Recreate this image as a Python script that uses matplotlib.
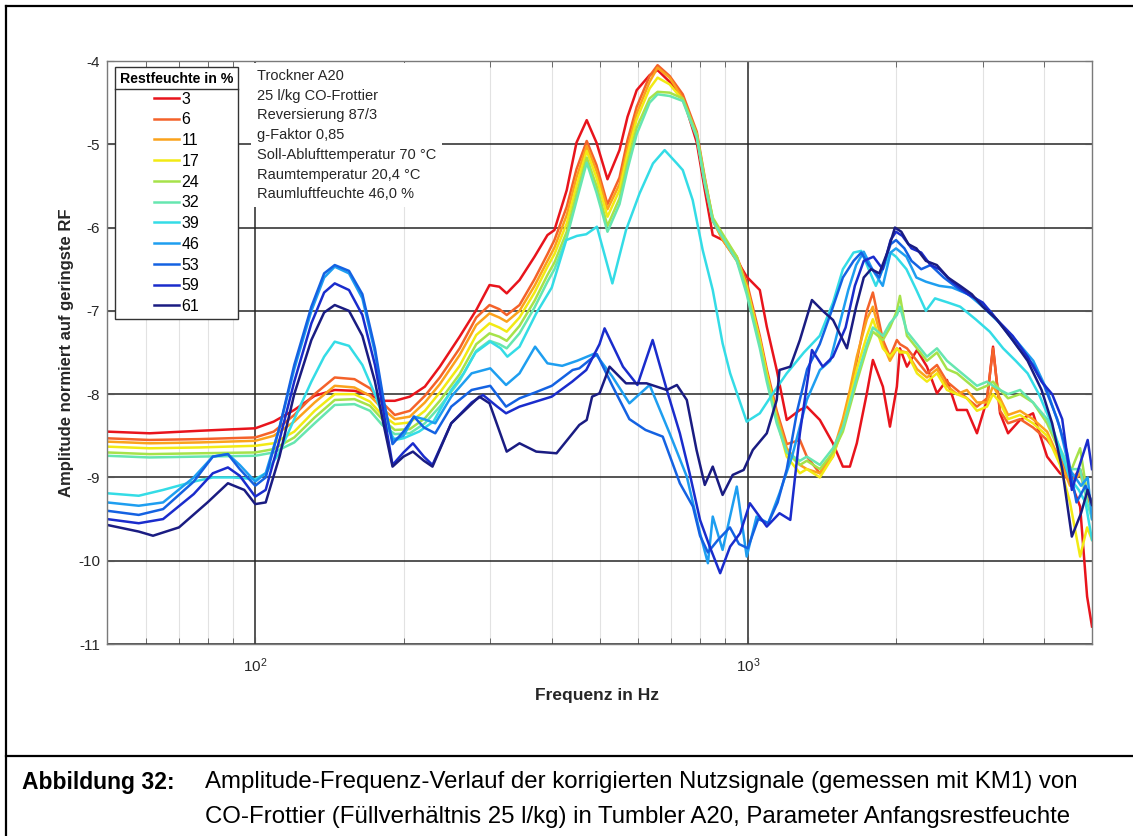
import matplotlib
matplotlib.use("Agg")
import matplotlib.pyplot as plt
from matplotlib.lines import Line2D

plt.rcParams['font.family'] = ['Liberation Sans', 'DejaVu Sans']
plt.rcParams['axes.unicode_minus'] = False

# Restfeuchte der Messreihen in %
moisture = [3, 6, 11, 17, 24, 32, 39, 46, 53, 59, 61]
colors = ['#e8141c', '#f4622a', '#fba21c', '#f2ea14', '#a6e24a', '#66e6b0',
          '#34dce6', '#1e9ef0', '#1462e2', '#1a2ccc', '#1a1c82']

info_lines = ['Trockner A20', '25 l/kg CO-Frottier', 'Reversierung 87/3', 'g-Faktor 0,85',
              'Soll-Ablufttemperatur 70 °C', 'Raumtemperatur 20,4 °C', 'Raumluftfeuchte 46,0 %']

# Frequenzstuetzstellen der warmen (trockenen) Messreihen
f_dry = [50, 61, 77, 100, 109, 120, 132, 145, 159, 171, 181, 192, 206, 221, 237, 260, 281, 299, 313, 324,
         344, 369, 392, 405, 429, 449, 471, 493, 519, 549, 570, 595, 632, 656, 694, 738, 788, 818, 849, 890,
         950, 995, 1058, 1093, 1145, 1200, 1276, 1318, 1401, 1489, 1560, 1612, 1665, 1745, 1795, 1881, 1944,
         2008, 2037, 2105, 2206, 2311, 2422, 2538, 2659, 2786, 2920, 3060, 3148, 3253, 3377, 3572, 3795,
         4053, 4306, 4511, 4730, 4887, 5000]

a_03 = [-8.45, -8.47, -8.44, -8.41, -8.33, -8.19, -8.02, -7.95, -7.96, -8.01, -8.08, -8.08, -8.03, -7.91,
        -7.67, -7.31, -6.99, -6.69, -6.71, -6.79, -6.63, -6.35, -6.09, -6.03, -5.55, -4.98, -4.71, -4.98,
        -5.42, -5.07, -4.67, -4.35, -4.17, -4.11, -4.25, -4.43, -4.98, -5.55, -6.09, -6.15, -6.39, -6.59,
        -6.75, -7.19, -7.71, -8.31, -8.19, -8.15, -8.31, -8.59, -8.87, -8.87, -8.59, -7.99, -7.59, -7.91,
        -8.39, -7.91, -7.45, -7.67, -7.47, -7.67, -7.99, -7.83, -8.19, -8.19, -8.47, -8.07, -7.43, -8.23,
        -8.47, -8.31, -8.23, -8.75, -8.95, -9.03, -9.35, -10.43, -10.79]

a_06 = [-8.53, -8.55, -8.54, -8.52, -8.45, -8.25, -8.00, -7.80, -7.82, -7.93, -8.10, -8.25, -8.20, -8.02,
        -7.80, -7.45, -7.08, -6.93, -6.98, -7.05, -6.93, -6.62, -6.32, -6.15, -5.75, -5.30, -4.96, -5.25,
        -5.72, -5.40, -4.95, -4.55, -4.18, -4.05, -4.18, -4.40, -4.85, -5.40, -5.90, -6.15, -6.35, -6.65,
        -7.30, -7.70, -8.20, -8.60, -8.55, -8.75, -8.95, -8.75, -8.35, -8.00, -7.60, -7.00, -6.78, -7.35,
        -7.55, -7.35, -7.40, -7.45, -7.60, -7.75, -7.65, -7.85, -7.95, -8.05, -8.15, -8.05, -7.45, -8.20,
        -8.35, -8.30, -8.40, -8.55, -8.75, -9.05, -8.90, -9.20, -9.30]

a_11 = [-8.57, -8.59, -8.58, -8.56, -8.50, -8.33, -8.10, -7.90, -7.92, -8.02, -8.17, -8.30, -8.27, -8.10,
        -7.88, -7.53, -7.17, -7.03, -7.08, -7.13, -7.00, -6.70, -6.40, -6.24, -5.85, -5.40, -5.02, -5.32,
        -5.78, -5.48, -5.05, -4.63, -4.25, -4.08, -4.20, -4.45, -4.90, -5.45, -5.92, -6.15, -6.40, -6.70,
        -7.35, -7.75, -8.25, -8.65, -8.85, -8.90, -8.95, -8.70, -8.30, -7.95, -7.55, -7.10, -6.95, -7.40,
        -7.60, -7.45, -7.48, -7.50, -7.70, -7.80, -7.70, -7.90, -8.00, -7.95, -8.10, -8.10, -7.90, -8.05,
        -8.25, -8.20, -8.30, -8.45, -8.80, -9.10, -8.95, -9.25, -9.35]

a_17 = [-8.63, -8.65, -8.64, -8.62, -8.59, -8.45, -8.20, -8.00, -8.00, -8.09, -8.25, -8.36, -8.34, -8.20,
        -7.98, -7.66, -7.29, -7.15, -7.20, -7.25, -7.08, -6.78, -6.47, -6.32, -5.95, -5.50, -5.08, -5.40,
        -5.87, -5.55, -5.12, -4.70, -4.33, -4.20, -4.28, -4.47, -4.90, -5.45, -5.90, -6.10, -6.35, -6.72,
        -7.35, -7.75, -8.30, -8.75, -8.95, -8.90, -9.00, -8.75, -8.40, -8.05, -7.70, -7.30, -7.10, -7.45,
        -7.55, -7.45, -7.50, -7.50, -7.75, -7.85, -7.75, -7.95, -8.00, -8.05, -8.20, -8.15, -8.00, -8.10,
        -8.30, -8.25, -8.35, -8.50, -8.85, -9.30, -9.95, -9.60, -9.75]

a_24 = [-8.70, -8.72, -8.71, -8.70, -8.66, -8.52, -8.28, -8.07, -8.06, -8.14, -8.30, -8.43, -8.42, -8.29,
        -8.08, -7.76, -7.40, -7.27, -7.31, -7.36, -7.18, -6.88, -6.57, -6.42, -6.05, -5.60, -5.16, -5.50,
        -5.98, -5.65, -5.22, -4.80, -4.45, -4.37, -4.38, -4.45, -4.88, -5.42, -5.88, -6.08, -6.35, -6.75,
        -7.40, -7.80, -8.30, -8.70, -8.85, -8.80, -8.90, -8.70, -8.45, -8.15, -7.85, -7.45, -7.25, -7.35,
        -7.20, -7.00, -6.82, -7.30, -7.45, -7.60, -7.50, -7.70, -7.75, -7.85, -7.95, -7.90, -7.85, -7.95,
        -8.05, -8.00, -8.10, -8.35, -8.70, -8.95, -8.65, -9.20, -9.30]

a_32 = [-8.74, -8.76, -8.75, -8.74, -8.70, -8.58, -8.35, -8.13, -8.12, -8.20, -8.37, -8.48, -8.47, -8.35,
        -8.15, -7.84, -7.48, -7.36, -7.40, -7.45, -7.27, -6.96, -6.65, -6.50, -6.12, -5.68, -5.22, -5.58,
        -6.05, -5.72, -5.30, -4.88, -4.50, -4.40, -4.42, -4.48, -4.92, -5.48, -5.92, -6.12, -6.40, -6.80,
        -7.45, -7.85, -8.35, -8.70, -8.80, -8.75, -8.85, -8.65, -8.40, -8.10, -7.80, -7.40, -7.20, -7.30,
        -7.15, -7.05, -6.95, -7.25, -7.40, -7.55, -7.45, -7.60, -7.70, -7.80, -7.90, -7.85, -7.90, -7.95,
        -8.00, -7.95, -8.10, -8.30, -8.65, -8.90, -8.90, -9.30, -9.50]

f_39 = [50, 58, 65, 75, 82, 90, 100, 105, 112, 120, 130, 138, 145, 155, 165, 175, 185, 192, 200, 215,
        230, 250, 265, 280, 300, 315, 325, 344, 372, 400, 428, 450, 470, 494, 531, 566, 603, 642, 678, 718,
        738, 773, 810, 849, 889, 921, 995, 1058, 1125, 1200, 1300, 1400, 1490, 1560, 1640, 1700, 1760, 1820,
        1880, 1950, 2000, 2100, 2200, 2300, 2400, 2550, 2700, 2900, 3100, 3300, 3500, 3700, 3900, 4100,
        4300, 4500, 4700, 4850, 5000]
a_39 = [-9.19, -9.22, -9.15, -9.05, -9.00, -9.00, -9.02, -8.95, -8.70, -8.30, -7.85, -7.55, -7.37, -7.42,
        -7.65, -8.00, -8.40, -8.55, -8.53, -8.45, -8.33, -7.95, -7.75, -7.50, -7.37, -7.45, -7.55, -7.43,
        -7.03, -6.72, -6.15, -6.10, -6.08, -5.99, -6.67, -6.03, -5.59, -5.23, -5.07, -5.23, -5.31, -5.67,
        -6.27, -6.75, -7.39, -7.75, -8.33, -8.23, -7.99, -7.75, -7.50, -7.30, -6.90, -6.50, -6.30, -6.28,
        -6.50, -6.70, -6.50, -6.30, -6.35, -6.50, -6.75, -7.00, -6.85, -6.90, -6.95, -7.10, -7.25, -7.45,
        -7.60, -7.75, -8.00, -8.30, -8.65, -9.00, -9.15, -9.30, -9.75]

f_46 = [50, 58, 65, 75, 82, 88, 93, 100, 105, 112, 120, 130, 138, 145, 155, 165, 175, 182, 190, 200,
        210, 220, 232, 250, 275, 300, 323, 344, 370, 392, 420, 450, 490, 531, 575, 632, 694, 752, 800, 830,
        849, 889, 950, 995, 1042, 1100, 1160, 1230, 1318, 1401, 1470, 1530, 1600, 1660, 1720, 1790, 1880,
        1950, 2000, 2100, 2200, 2300, 2450, 2600, 2800, 3000, 3250, 3500, 3800, 4050, 4300, 4500, 4750,
        4900, 5000]
a_46 = [-9.30, -9.34, -9.30, -9.00, -8.75, -8.72, -8.85, -9.05, -8.95, -8.40, -7.70, -7.00, -6.60, -6.47,
        -6.55, -6.85, -7.50, -8.10, -8.55, -8.50, -8.27, -8.30, -8.35, -8.03, -7.75, -7.69, -7.89, -7.75,
        -7.43, -7.63, -7.66, -7.60, -7.51, -7.79, -8.11, -7.89, -8.47, -8.99, -9.67, -10.03, -9.47, -9.87,
        -9.11, -9.95, -9.47, -9.55, -9.19, -8.75, -8.07, -7.71, -7.60, -7.20, -6.75, -6.45, -6.29, -6.50,
        -6.70, -6.30, -6.25, -6.35, -6.60, -6.65, -6.70, -6.72, -6.80, -6.95, -7.15, -7.35, -7.60, -7.95,
        -8.40, -8.90, -9.10, -9.00, -9.50]

f_53 = [50, 58, 65, 75, 82, 88, 93, 100, 105, 112, 120, 130, 138, 145, 155, 165, 175, 182, 190, 200,
        210, 220, 232, 250, 275, 300, 323, 344, 370, 400, 441, 455, 494, 531, 575, 620, 672, 728, 774, 800,
        830, 870, 920, 960, 1000, 1050, 1100, 1150, 1200, 1260, 1320, 1400, 1480, 1560, 1640, 1700, 1760,
        1850, 1950, 2000, 2080, 2150, 2250, 2350, 2500, 2700, 2900, 3100, 3300, 3550, 3800, 4000, 4250,
        4450, 4650, 4850, 5000]
a_53 = [-9.40, -9.45, -9.38, -9.05, -8.75, -8.72, -8.90, -9.10, -9.00, -8.40, -7.65, -6.95, -6.55, -6.45,
        -6.52, -6.80, -7.45, -8.05, -8.60, -8.45, -8.27, -8.40, -8.47, -8.15, -7.95, -7.90, -8.15, -8.05,
        -7.98, -7.90, -7.71, -7.69, -7.52, -7.90, -8.30, -8.43, -8.51, -9.07, -9.35, -9.70, -9.90, -9.75,
        -9.60, -9.80, -9.85, -9.50, -9.55, -9.30, -8.90, -8.20, -7.70, -7.40, -7.00, -6.60, -6.40, -6.30,
        -6.45, -6.60, -6.20, -6.15, -6.25, -6.40, -6.50, -6.45, -6.60, -6.75, -6.85, -7.00, -7.20, -7.45,
        -7.65, -7.90, -8.30, -8.70, -9.30, -9.10, -9.30]

f_59 = [50, 58, 65, 75, 82, 88, 93, 100, 105, 112, 120, 130, 138, 145, 155, 165, 175, 182, 190, 200,
        209, 220, 229, 250, 275, 290, 310, 323, 344, 400, 440, 470, 500, 512, 558, 597, 641, 685, 728, 762,
        800, 837, 879, 921, 965, 1010, 1093, 1160, 1220, 1276, 1350, 1420, 1490, 1580, 1650, 1720, 1800,
        1880, 1950, 2000, 2060, 2150, 2250, 2350, 2450, 2600, 2800, 3000, 3200, 3450, 3700, 3950, 4150,
        4350, 4550, 4750, 4900, 5000]
a_59 = [-9.50, -9.55, -9.50, -9.20, -8.95, -8.88, -8.98, -9.23, -9.15, -8.55, -7.85, -7.15, -6.78, -6.67,
        -6.75, -7.05, -7.65, -8.20, -8.85, -8.70, -8.59, -8.75, -8.85, -8.35, -8.10, -8.01, -8.15, -8.23,
        -8.15, -8.03, -7.85, -7.71, -7.40, -7.21, -7.67, -7.89, -7.35, -7.95, -8.47, -8.95, -9.51, -9.83,
        -10.15, -9.83, -9.67, -9.31, -9.59, -9.43, -9.51, -8.47, -7.47, -7.67, -7.55, -7.20, -6.70, -6.40,
        -6.35, -6.50, -6.15, -6.05, -6.10, -6.25, -6.30, -6.45, -6.50, -6.65, -6.80, -6.90, -7.10, -7.30,
        -7.55, -7.85, -8.00, -8.30, -9.15, -8.80, -8.55, -8.90]

f_61 = [50, 58, 62, 70, 80, 88, 95, 100, 105, 112, 120, 130, 138, 145, 155, 165, 175, 182, 190, 200,
        209, 220, 229, 250, 285, 299, 324, 344, 372, 409, 441, 455, 471, 483, 500, 524, 566, 623, 685, 718,
        752, 787, 818, 849, 889, 932, 981, 1024, 1093, 1145, 1160, 1220, 1276, 1350, 1420, 1490, 1590, 1660,
        1720, 1780, 1850, 1920, 1990, 2050, 2120, 2200, 2300, 2420, 2550, 2700, 2850, 3000, 3200, 3450,
        3700, 3950, 4150, 4350, 4550, 4750, 4900, 5000]
a_61 = [-9.57, -9.65, -9.70, -9.60, -9.30, -9.07, -9.15, -9.32, -9.30, -8.75, -8.00, -7.35, -7.02, -6.93,
        -7.00, -7.30, -7.85, -8.35, -8.87, -8.75, -8.69, -8.80, -8.87, -8.35, -8.03, -8.11, -8.69, -8.59,
        -8.69, -8.71, -8.47, -8.37, -8.31, -8.03, -7.99, -7.67, -7.87, -7.87, -7.95, -7.89, -8.07, -8.67,
        -9.09, -8.87, -9.21, -8.97, -8.91, -8.67, -8.47, -8.07, -7.71, -7.67, -7.35, -6.87, -7.00, -7.11,
        -7.45, -6.95, -6.60, -6.50, -6.55, -6.30, -6.00, -6.05, -6.20, -6.25, -6.40, -6.45, -6.60, -6.70,
        -6.80, -6.95, -7.10, -7.35, -7.60, -7.95, -8.35, -8.90, -9.71, -9.43, -9.15, -9.33]

series = [(f_dry, a_03), (f_dry, a_06), (f_dry, a_11), (f_dry, a_17), (f_dry, a_24), (f_dry, a_32),
          (f_39, a_39), (f_46, a_46), (f_53, a_53), (f_59, a_59), (f_61, a_61)]

W, H = 1133, 836
fig = plt.figure(figsize=(W / 100, H / 100), dpi=100)
ax = fig.add_axes([107 / W, 1 - 644 / H, (1092 - 107) / W, (644 - 61) / H])

for (f, a), m, c in zip(series, moisture, colors):
    ax.plot(f, a, color=c, lw=1.8, label=str(m))

ax.set_xscale('log')
ax.set_xlim(50, 5000)
ax.set_ylim(-11, -4)
ax.set_yticks(range(-11, -3))

ax.set_axisbelow(True)
ax.grid(which='major', color='#262626', lw=1.1)
ax.grid(which='minor', axis='x', color='#e2e2e2', lw=0.8)
for s in ax.spines.values():
    s.set_color('#7a7a7a')
    s.set_linewidth(1.0)
ax.tick_params(which='both', direction='in', top=True, right=True, color='#555555')
ax.tick_params(which='major', length=5, labelsize=11, labelcolor='#262626', pad=5)
ax.tick_params(axis='x', which='major', pad=9)
ax.tick_params(which='minor', length=4)

ax.set_xlabel('Frequenz in Hz', fontsize=12.5, fontweight='bold', color='#262626')
ax.set_ylabel('Amplitude normiert auf geringste RF', fontsize=12, fontweight='bold', color='#262626')
ax.xaxis.set_label_coords(0.497, -0.075)
ax.yaxis.set_label_coords(-0.034, 0.5)

leg = ax.legend(title='Restfeuchte in %', loc='upper left', bbox_to_anchor=(115 / W, 1 - 67 / H),
                bbox_transform=fig.transFigure, borderaxespad=0, fancybox=False,
                edgecolor='#333333', framealpha=1, fontsize=11.5,
                title_fontproperties={'weight': 'bold', 'size': 10.2},
                handlelength=1.6, handletextpad=0.15, labelspacing=0.36, borderpad=0.3,
                alignment='center')
leg.get_frame().set_linewidth(1.0)

fig.text(257 / W, 1 - 69 / H, '\n'.join(info_lines), ha='left', va='top', fontsize=10.5,
         linespacing=1.52, color='#262626',
         bbox=dict(facecolor='white', edgecolor='none', pad=4))

# line under the legend title
fig.canvas.draw()
rend = fig.canvas.get_renderer()
fb = leg.get_frame().get_window_extent(rend)
tb = leg.get_title().get_window_extent(rend)
inv = fig.transFigure.inverted()
(x0, ys), (x1, _) = inv.transform([(fb.x0, tb.y0 - 3), (fb.x1, tb.y0 - 3)])
fig.add_artist(Line2D([x0, x1], [ys, ys], color='#333333', lw=1.0))

# frame around figure and caption
border = dict(color='black', lw=1.6)
fig.add_artist(Line2D([6 / W, 1], [1 - 6 / H, 1 - 6 / H], **border))
fig.add_artist(Line2D([6 / W, 6 / W], [0, 1 - 6 / H], **border))
fig.add_artist(Line2D([6 / W, 1], [1 - 756 / H, 1 - 756 / H], **border))

fig.text(22 / W, 1 - 782 / H, 'Abbildung 32:', fontsize=16.5, fontweight='bold', va='center')
fig.text(205 / W, 1 - 782 / H,
         'Amplitude-Frequenz-Verlauf der korrigierten Nutzsignale (gemessen mit KM1) von',
         fontsize=17.3, va='center')
fig.text(205 / W, 1 - 817 / H,
         'CO-Frottier (Füllverhältnis 25 l/kg) in Tumbler A20, Parameter Anfangsrestfeuchte',
         fontsize=17.3, va='center')

fig.savefig('out.png', dpi=100)
